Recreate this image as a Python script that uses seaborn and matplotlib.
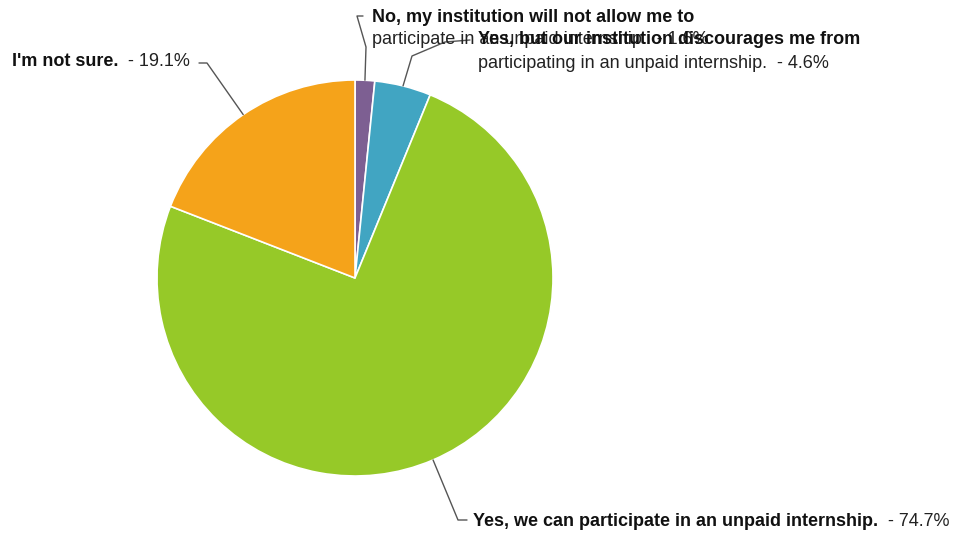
import numpy as np
import seaborn as sns
import matplotlib.pyplot as plt

sns.set_style("white")
plt.rcParams['font.family'] = ['Liberation Sans', 'DejaVu Sans']

# answers, in clockwise order starting at 12 o'clock
answers_bold = ["No, my institution will not allow me to",
                "Yes, but our institution discourages me from",
                "Yes, we can participate in an unpaid internship.",
                "I'm not sure."]
answers_rest = ["participate in an unpaid internship.",
                "participating in an unpaid internship.",
                "",
                ""]
shares = [1.6, 4.6, 74.7, 19.1]
colors = ["#7D5F92", "#41A5C2", "#96C928", "#F5A31A"]

W, H = 959, 536
fig = plt.figure(figsize=(W / 100, H / 100), dpi=100)
ax = fig.add_axes([0, 0, 1, 1])

cx, cy, r = 355, H - 278, 198
wedges, _ = ax.pie(shares, colors=colors, startangle=90, counterclock=False,
                   center=(cx, cy), radius=r, frame=True,
                   wedgeprops=dict(edgecolor="white", linewidth=1.2))
ax.set_xlim(0, W)
ax.set_ylim(0, H)
ax.set_aspect("equal")
ax.axis("off")

# label layout (pixel coords, y down): elbow points and text anchor
layout = [
    dict(elbow=[(366, 47), (357, 16), (363, 16)], text=(372, 17), ha="left"),
    dict(elbow=[(412, 56), (445, 42), (470, 40)], text=(478, 40), ha="left"),
    dict(elbow=[(458, 520), (467, 520)], text=(473, 521), ha="left"),
    dict(elbow=[(207, 63), (199, 63)], text=(190, 62), ha="right"),
]

fs = 13
for w, b, rest, s, lay in zip(wedges, answers_bold, answers_rest, shares, layout):
    mid = np.deg2rad((w.theta1 + w.theta2) / 2)
    x0, y0 = cx + r * np.cos(mid), cy + r * np.sin(mid)
    xs = [x0] + [p[0] for p in lay["elbow"]]
    ys = [y0] + [H - p[1] for p in lay["elbow"]]
    ax.plot(xs, ys, color="#555555", lw=1, zorder=1)

    tx, ty = lay["text"]
    pct = f"  - {s:.1f}%"
    if rest:
        ax.text(tx, H - ty, b, fontsize=fs, fontweight="bold", va="center",
                ha="left", color="#111111", zorder=3)
        ax.text(tx, H - ty - 23, rest + pct, fontsize=fs, va="center",
                ha="left", color="#222222", zorder=3)
    elif lay["ha"] == "left":
        t = ax.text(tx, H - ty, b, fontsize=fs, fontweight="bold", va="center",
                    ha="left", color="#111111", zorder=3)
        ax.annotate(pct, xy=(1, 0.5), xycoords=t, va="center", ha="left",
                    fontsize=fs, color="#222222")
    else:
        t = ax.text(tx, H - ty, pct, fontsize=fs, va="center",
                    ha="right", color="#222222", zorder=3)
        ax.annotate(b, xy=(0, 0.5), xycoords=t, va="center", ha="right",
                    fontsize=fs, fontweight="bold", color="#111111")

fig.savefig("out.png", dpi=100)
